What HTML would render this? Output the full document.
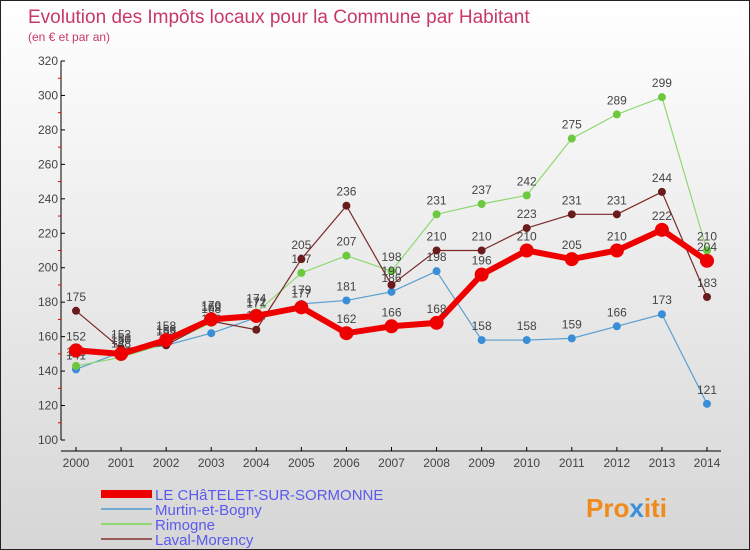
<!DOCTYPE html>
<html><head><meta charset="utf-8"><style>
body{margin:0}
#c{width:750px;height:550px;position:relative;box-sizing:border-box;border:1px solid #222;background:linear-gradient(#ffffff,#d6d6d6);font-family:"Liberation Sans",sans-serif;overflow:hidden}
</style></head><body>
<div id="c">
<svg id="s" width="750" height="550" style="position:absolute;left:0;top:0">
<text x="27" y="22" font-size="19" fill="#c8386a">Evolution des Impôts locaux pour la Commune par Habitant</text>
<text x="27" y="40" font-size="12" fill="#c8386a">(en € et par an)</text>
<text x="585" y="516" font-size="26" font-weight="bold" fill="#f08a1c">Pro<tspan fill="#3a8ed8">x</tspan>iti</text>
</svg>
</div>
<script>
const years=["2000","2001","2002","2003","2004","2005","2006","2007","2008","2009","2010","2011","2012","2013","2014"];
const yTicks=[100,120,140,160,180,200,220,240,260,280,300,320];
const seriesNames=["LE CHâTELET-SUR-SORMONNE","Murtin-et-Bogny","Rimogne","Laval-Morency"];
const chatelet=[152,150,158,170,172,177,162,166,168,196,210,205,210,222,204];
const murtin=[141,151,155,162,171,179,181,186,198,158,158,159,166,173,121];
const rimogne=[143,148,156,168,174,197,207,198,231,237,242,275,289,299,210];
const laval=[175,153,155,169,164,205,236,190,210,210,223,231,231,244,183];
const NS="http://www.w3.org/2000/svg";
const s=document.getElementById('s');
const X=i=>75+i*(706-75)/14;
const Y=v=>439-(v-100)*(439-60)/220;
function el(t,a,p){const e=document.createElementNS(NS,t);for(const k in a)e.setAttribute(k,a[k]);(p||s).appendChild(e);return e;}
let ya=el('line',{x1:60,y1:60,x2:60,y2:439,stroke:'#000'});


let xa=el('line',{x1:60,y1:450,x2:720,y2:450,stroke:'#000'});


yTicks.forEach((v,i)=>{
  el('line',{x1:60,y1:Y(v),x2:64,y2:Y(v),stroke:'#000'});
  const t=el('text',{x:57,y:Y(v)+4,'font-size':12,fill:'#444','text-anchor':'end'});
  t.textContent=v;
  
  
  if(i<yTicks.length-1){el('line',{x1:57,y1:Y(v+10),x2:60,y2:Y(v+10),stroke:'#e00'});}
});
years.forEach((y,i)=>{
  el('line',{x1:X(i),y1:446,x2:X(i),y2:450,stroke:'#000'});
  const t=el('text',{x:X(i),y:466,'font-size':12,fill:'#444','text-anchor':'middle'});
  t.textContent=y;
  
  
});
function series(data,color,dot,w,r,name){
  const g=el('g',{});
  
  
  el('polyline',{points:data.map((v,i)=>X(i)+','+Y(v)).join(' '),fill:'none',stroke:color,'stroke-width':w,'stroke-linejoin':'round'},g);
  data.forEach((v,i)=>{
    const c=el('circle',{cx:X(i),cy:Y(v),r:r,fill:dot},g);
    
    
    const t=el('text',{x:X(i),y:Y(v)-10,'font-size':12,fill:'#444','text-anchor':'middle'},g);
    t.textContent=v;
  });
}
series(murtin,'#5aa0d0','#3a8ed8',1.2,4,'murtin-series');
series(rimogne,'#8fd870','#6cc83c',1.2,4,'rimogne-series');
series(laval,'#7a2a2a','#6a1c1c',1.2,4,'laval-series');
series(chatelet,'#ee0000','#ee0000',6,7,'chatelet-series');
const lc=['#ee0000','#6fa8d0','#8fd870','#9a5a5a'],lw=[8,2,2,2];
seriesNames.forEach((n,i)=>{
  const y=493+i*15;
  const l=el('line',{x1:100,y1:y,x2:151,y2:y,stroke:lc[i],'stroke-width':lw[i]});
  
  
  const t=el('text',{x:154,y:y+6,'font-size':15,fill:'#5a5aee'});
  t.textContent=n;
  
  
});
</script>
</body></html>
